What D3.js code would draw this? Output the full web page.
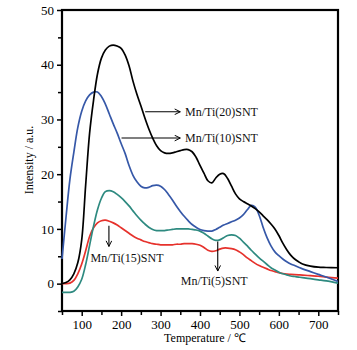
<!DOCTYPE html>
<html>
<head>
<meta charset="utf-8">
<script src="https://cdn.jsdelivr.net/npm/d3@7"></script>
<style>
  body { margin: 0; background: #fff; }
  svg { display: block; font-family: "Liberation Serif", "Times New Roman", serif; }
</style>
</head>
<body>
<svg id="chart"></svg>
<script>
// temperatures (℃) shared by all series
const temps = [
  50, 60, 70, 80, 90, 100, 110, 120, 130, 140,
  150, 160, 170, 180, 190, 200, 210, 220, 230, 240,
  250, 260, 270, 280, 290, 300, 310, 320, 330, 340,
  350, 360, 370, 380, 390, 400, 410, 420, 430, 440,
  450, 460, 470, 480, 490, 500, 510, 520, 530, 540,
  550, 560, 570, 580, 590, 600, 610, 620, 630, 640,
  650, 660, 680, 700, 720, 750
];

const ti20 = [
  0, 0.2, 0.7, 1.8, 3.8, 8, 18, 27.5, 33.5, 38.3,
  41.2, 42.7, 43.4, 43.6, 43.4, 43.0, 41.8, 39.8, 37.0, 34.6,
  32.5, 30.3, 28.3, 26.6, 25.2, 24.3, 23.9, 23.8, 23.9, 24.1,
  24.3, 24.5, 24.5, 24.1, 23.1, 21.6, 20.2, 18.8, 18.4, 19.3,
  20.0, 20.1, 19.2, 17.8, 16.4, 15.5, 15.0, 14.6, 14.2, 13.7,
  13.1, 12.4, 11.7, 10.9, 10.0, 8.8, 7.4, 6.2, 5.2, 4.5,
  4.0, 3.6, 3.2, 3.0, 2.95, 2.9
];

const ti10 = [
  4.5, 12, 19, 24, 28.5, 31.5, 33.4, 34.5, 35.0, 35.0,
  34.2, 32.8, 31.0, 29.2, 27.5, 25.6, 23.8, 21.6, 19.8, 18.6,
  17.8, 17.5, 17.6, 17.9, 18.0, 17.8, 17.2, 16.3, 15.3, 14.2,
  13.2, 12.3, 11.5, 10.8, 10.3, 9.9, 9.7, 9.6, 9.6, 9.9,
  10.3, 10.7, 11.0, 11.3, 11.6, 12.0, 12.6, 13.5, 14.3, 14.0,
  12.5, 10.3, 8.4, 6.9, 5.8, 5.1, 4.5, 4.0, 3.6, 3.3,
  3.0, 2.7, 2.2, 1.7, 1.2, 0.4
];

const ti5 = [
  -1.6, -1.6, -1.6, -1.4, -0.6, 0.8, 3.5, 7, 10.5, 13.5,
  15.6, 16.8, 17.0, 16.8, 16.3, 15.7, 15.0, 14.2, 13.3, 12.4,
  11.6, 10.9, 10.3, 9.9, 9.7, 9.7, 9.7, 9.8, 9.9, 10.0,
  10.0, 10.0, 10.0, 9.9, 9.8, 9.6, 9.2, 8.7, 8.2, 7.9,
  8.0, 8.4, 8.8, 8.9, 8.8, 8.3, 7.6, 6.9, 6.1, 5.4,
  4.7, 4.1, 3.5, 2.9, 2.5, 2.1, 1.8, 1.6, 1.4, 1.3,
  1.2, 1.1, 0.9, 0.7, 0.5, 0.1
];

const ti15 = [
  0, 0, 0.1, 0.6, 1.8, 3.6, 6.0, 8.6, 10.2, 11.1,
  11.5, 11.6, 11.4, 11.1, 10.7, 10.2, 9.7, 9.2, 8.7, 8.3,
  8.0, 7.7, 7.5, 7.3, 7.2, 7.1, 7.1, 7.1, 7.1, 7.2,
  7.2, 7.3, 7.3, 7.3, 7.2, 7.0, 6.6, 6.1, 5.9, 6.0,
  6.3, 6.5, 6.5, 6.4, 6.2, 5.8, 5.3, 4.7, 4.2, 3.7,
  3.3, 3.0, 2.7, 2.4, 2.2, 2.0, 1.85, 1.75, 1.7, 1.65,
  1.6, 1.55, 1.45, 1.35, 1.2, 1.0
];

const xTicks = [100, 200, 300, 400, 500, 600, 700];
const yTicks = [0, 10, 20, 30, 40, 50];

const series = [
  { name: "Mn/Ti(15)SNT", values: ti15, color: "#e6322c" },
  { name: "Mn/Ti(5)SNT", values: ti5, color: "#2e8a80" },
  { name: "Mn/Ti(10)SNT", values: ti10, color: "#3658a8" },
  { name: "Mn/Ti(20)SNT", values: ti20, color: "#000000" }
];

const width = 357, height = 350;
const margin = { top: 10, right: 19, bottom: 39, left: 62 };
const w = width - margin.left - margin.right;
const h = height - margin.top - margin.bottom;

const svg = d3.select("#chart").attr("width", width).attr("height", height);

const defs = svg.append("defs");
defs.append("marker")
  .attr("id", "arrow")
  .attr("viewBox", "0 0 10 10")
  .attr("refX", 9).attr("refY", 5)
  .attr("markerWidth", 7).attr("markerHeight", 7)
  .attr("markerUnits", "userSpaceOnUse")
  .attr("orient", "auto")
  .append("path")
  .attr("d", "M1,1 L9,5 L1,9")
  .attr("fill", "none")
  .attr("stroke", "#000")
  .attr("stroke-width", 1.4);

const g = svg.append("g").attr("transform", `translate(${margin.left},${margin.top})`);

const x = d3.scaleLinear().domain([50, 750]).range([0, w]);
const y = d3.scaleLinear().domain([-5, 50]).range([h, 0]);

// minor ticks
const xMinor = d3.range(50, 751, 100);
const yMinor = d3.range(-5, 50, 10);

g.append("g")
  .attr("transform", `translate(0,${h})`)
  .call(d3.axisBottom(x).tickValues(xMinor).tickSize(4).tickFormat(""))
  .call(a => a.select(".domain").remove())
  .selectAll("line").attr("stroke-width", 1.5);

g.append("g")
  .call(d3.axisLeft(y).tickValues(yMinor).tickSize(4).tickFormat(""))
  .call(a => a.select(".domain").remove())
  .selectAll("line").attr("stroke-width", 1.5);

const xAxis = g.append("g")
  .attr("transform", `translate(0,${h})`)
  .call(d3.axisBottom(x).tickValues(xTicks).tickSize(5).tickPadding(4));
xAxis.selectAll("text").attr("font-size", 13).attr("font-family", "Liberation Serif").attr("fill", "#000");
xAxis.selectAll("line").attr("stroke-width", 1.5);
xAxis.select(".domain").remove();

const yAxis = g.append("g")
  .call(d3.axisLeft(y).tickValues(yTicks).tickSize(5).tickPadding(3));
yAxis.selectAll("text").attr("font-size", 13).attr("font-family", "Liberation Serif").attr("fill", "#000");
yAxis.selectAll("line").attr("stroke-width", 1.5);
yAxis.select(".domain").remove();

// frame
g.append("rect")
  .attr("x", 0).attr("y", 0)
  .attr("width", w).attr("height", h)
  .attr("fill", "none")
  .attr("stroke", "#000")
  .attr("stroke-width", 2.2);

const line = d3.line()
  .x((d, i) => x(temps[i]))
  .y(d => y(d))
  .curve(d3.curveCatmullRom.alpha(0.5));

g.selectAll("path.series").data(series).enter().append("path")
  .attr("class", "series")
  .attr("d", d => line(d.values))
  .attr("fill", "none")
  .attr("stroke", d => d.color)
  .attr("stroke-width", 1.7);

// annotations
const notes = [
  { name: "Mn/Ti(20)SNT", x1: 261, y1: 31.4, x2: 350, y2: 31.4, tx: 362, ty: 31.4, anchor: "start" },
  { name: "Mn/Ti(10)SNT", x1: 201, y1: 26.6, x2: 350, y2: 26.6, tx: 362, ty: 26.6, anchor: "start" },
  { name: "Mn/Ti(15)SNT", x1: 169, y1: 10.6, x2: 169, y2: 6.8, tx: 215, ty: 4.7, anchor: "middle" },
  { name: "Mn/Ti(5)SNT", x1: 445, y1: 7.7, x2: 445, y2: 2.3, tx: 436, ty: 0.6, anchor: "middle" }
];

g.selectAll("line.note").data(notes).enter().append("line")
  .attr("class", "note")
  .attr("x1", d => x(d.x1)).attr("y1", d => y(d.y1))
  .attr("x2", d => x(d.x2)).attr("y2", d => y(d.y2))
  .attr("stroke", "#000")
  .attr("stroke-width", 1.1)
  .attr("marker-end", "url(#arrow)");

g.selectAll("text.note").data(notes).enter().append("text")
  .attr("class", "note")
  .attr("x", d => x(d.tx)).attr("y", d => y(d.ty))
  .attr("dy", "0.35em")
  .attr("text-anchor", d => d.anchor)
  .attr("font-size", 12)
  .attr("fill", "#111")
  .text(d => d.name);

// axis titles
svg.append("text")
  .attr("x", 205).attr("y", 342)
  .attr("text-anchor", "middle")
  .attr("font-size", 12)
  .text("Temperature / ℃");

svg.append("text")
  .attr("transform", "translate(33,160) rotate(-90)")
  .attr("text-anchor", "middle")
  .attr("font-size", 12)
  .text("Intensity / a.u.");
</script>
</body>
</html>
